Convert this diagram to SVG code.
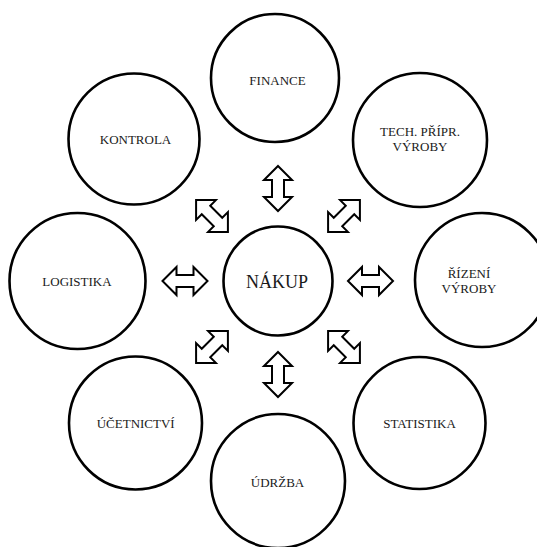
<svg xmlns="http://www.w3.org/2000/svg" width="537" height="547" viewBox="0 0 537 547">
  <style>
    .node circle { fill: #fff; stroke: #000; stroke-width: 2.6; }
    .node text { font-family: "Liberation Serif", "Times New Roman", serif; font-size: 13px; fill: #1a1a1a; text-anchor: middle; }
    #nakup text { font-size: 18px; }
    .arrow { fill: #fff; stroke: #000; stroke-width: 2; stroke-linejoin: miter; }
  </style>
  <defs>
    <!-- double-headed block arrow, 45 long, centred on the origin, pointing along x -->
    <path id="dbl" d="M-22.5,0 L-8.5,-14 L-8.5,-6 L8.5,-6 L8.5,-14 L22.5,0 L8.5,14 L8.5,6 L-8.5,6 L-8.5,14 Z"/>
  </defs>

  <g id="connectors">
    <use href="#dbl" class="arrow" transform="translate(278,188.5) rotate(90)"/>
    <use href="#dbl" class="arrow" transform="translate(278,374.5) rotate(90)"/>
    <use href="#dbl" class="arrow" transform="translate(185,281)"/>
    <use href="#dbl" class="arrow" transform="translate(370.5,281)"/>
    <use href="#dbl" class="arrow" transform="translate(212,216) rotate(45)"/>
    <use href="#dbl" class="arrow" transform="translate(344,216) rotate(-45)"/>
    <use href="#dbl" class="arrow" transform="translate(212,347) rotate(-45)"/>
    <use href="#dbl" class="arrow" transform="translate(344,347) rotate(45)"/>
  </g>

  <g id="finance" class="node">
    <circle cx="275" cy="78" r="64"/>
    <text x="277.5" y="85">FINANCE</text>
  </g>
  <g id="tech-pripr" class="node">
    <circle cx="420" cy="140" r="67"/>
    <text x="420" y="136">TECH. PŘÍPR.</text>
    <text x="420" y="151">VÝROBY</text>
  </g>
  <g id="rizeni" class="node">
    <circle cx="482" cy="280" r="67"/>
    <text x="469" y="278">ŘÍZENÍ</text>
    <text x="469" y="293">VÝROBY</text>
  </g>
  <g id="statistika" class="node">
    <circle cx="419.5" cy="423" r="66"/>
    <text x="419.5" y="428">STATISTIKA</text>
  </g>
  <g id="udrzba" class="node">
    <circle cx="278" cy="481" r="67"/>
    <text x="277.5" y="487">ÚDRŽBA</text>
  </g>
  <g id="ucetnictvi" class="node">
    <circle cx="135.5" cy="423" r="66.5"/>
    <text x="135.7" y="428">ÚČETNICTVÍ</text>
  </g>
  <g id="logistika" class="node">
    <circle cx="77.5" cy="281" r="68"/>
    <text x="77" y="285.5">LOGISTIKA</text>
  </g>
  <g id="kontrola" class="node">
    <circle cx="134" cy="139" r="65.5"/>
    <text x="135.5" y="144">KONTROLA</text>
  </g>
  <g id="nakup" class="node">
    <circle cx="278" cy="281" r="54.5"/>
    <text x="277" y="287.5">NÁKUP</text>
  </g>
</svg>
